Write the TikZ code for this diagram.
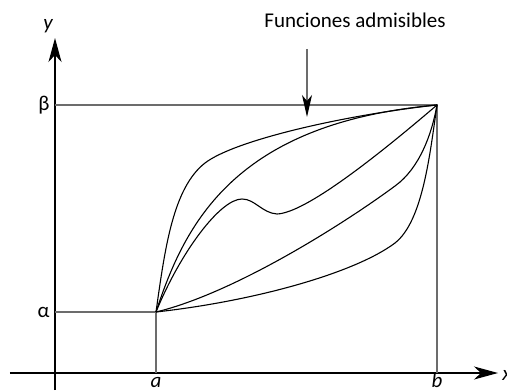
\documentclass[tikz,border=0pt]{standalone}
\usepackage{fontspec}
\setmainfont{Carlito}
\usetikzlibrary{arrows.meta}

\begin{document}
\begin{tikzpicture}[x=0.5pt,y=0.5pt,
  font=\fontsize{10.5}{12}\selectfont,
  axis/.style={line width=0.6pt, -{Stealth[length=12pt,width=6.5pt,inset=3.5pt]}},
  guide/.style={gray!85!black, line width=0.6pt},
  pointer/.style={gray!85!black, line width=0.6pt, -{Stealth[length=11pt,width=5pt,inset=3pt,black]}},
  curve/.style={black, line width=0.55pt},
  lbl/.style={inner sep=0pt},
  var/.style={inner sep=0pt, font=\fontsize{10.5}{12}\selectfont\itshape}]

\useasboundingbox (-55,-17) rectangle (452,373);

% -------------------------------------------------
% Axes
% -------------------------------------------------
\coordinate (O) at (0,0);
\coordinate (xfrom) at (-45,0);
\coordinate (xto) at (443,0);
\coordinate (yfrom) at (0,-17);
\coordinate (yto) at (0,335);
\draw[axis] (xfrom) -- (xto);  % axe x
\draw[axis] (yfrom) -- (yto);  % axe y
\node[var, anchor=base west] (xlab) at (447,-7) {x};
\node[var, anchor=base] (ylab) at (-7,343) {y};

% -------------------------------------------------
% Extremos (a,alpha) et (b,beta)
% -------------------------------------------------
\coordinate (A) at (101,61);
\coordinate (B) at (382,268);
\draw[guide] (A -| O) -- (A) -- (A |- O);
\draw[guide] (B -| O) -- (B) -- (B |- O);

\node[var, anchor=base] (alab) at (101,-14) {a};
\node[var, anchor=base] (blab) at (382,-14) {b};
\node[lbl, anchor=base east] (alpha) at (-5,55) {α};
\node[lbl, anchor=base east] (beta) at (-5,262) {β};

% -------------------------------------------------
% Funciones admisibles
% -------------------------------------------------
\draw[curve] (A) .. controls (110,125) and (118,185) .. (150,210)
  .. controls (180,233) and (290,258) .. (B);
\draw[curve] (A) .. controls (130,150) and (180,250) .. (B);
\draw[curve] (A) .. controls (125,120) and (165,174) .. (187,174)
  .. controls (200,174) and (207,160) .. (222,159)
  .. controls (250,160) and (320,215) .. (B);
\draw[curve] (A) .. controls (180,80) and (290,150) .. (340,187)
  .. controls (365,205) and (377,240) .. (B);
\draw[curve] (A) .. controls (200,72) and (300,100) .. (340,130)
  .. controls (368,152) and (375,220) .. (B);

\node[lbl, anchor=base] (title) at (300,345) {Funciones admisibles};
\coordinate (ptop) at (252,324);
\coordinate (ptip) at (252,256);
\draw[pointer] (ptop) -- (ptip);

\end{tikzpicture}
\end{document}
